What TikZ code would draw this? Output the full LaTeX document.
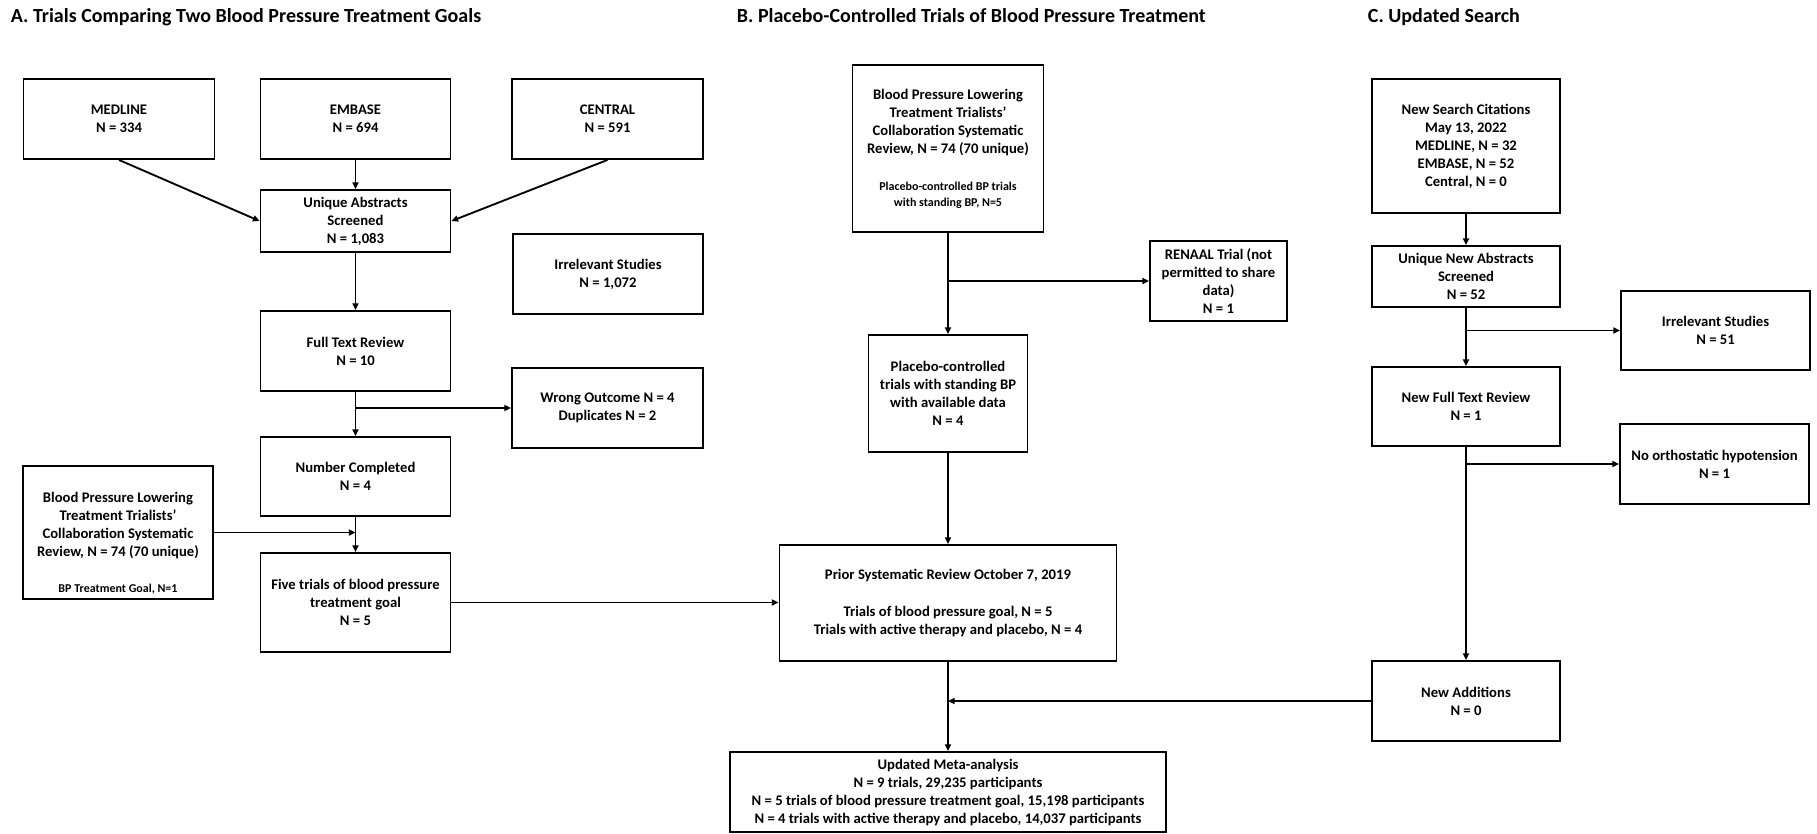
\documentclass[tikz,border=0pt]{standalone}
\usepackage{fontspec}
\setmainfont{Carlito}
\usetikzlibrary{arrows.meta}

\newcommand\smalltxt{\fontsize{9}{12}\selectfont}

\begin{document}
\begin{tikzpicture}[x=.75pt, y=-.75pt, line width=1.4pt,
    box/.style={draw, align=center, inner sep=0pt, font=\bfseries\fontsize{11}{13.5}\selectfont},
    wh/.style 2 args={minimum width=#1*.75pt, minimum height=#2*.75pt},
    title/.style={anchor=base west, inner sep=0pt, font=\bfseries\fontsize{15}{17}\selectfont},
    arr/.style={-{Triangle[length=5pt,width=4.5pt]}}]
\useasboundingbox (0,0) rectangle (1817,833);

\node[title] (titleA) at (10,22) {A. Trials Comparing Two Blood Pressure Treatment Goals};
\node[title] (titleB) at (736,22) {B. Placebo-Controlled Trials of Blood Pressure Treatment};
\node[title] (titleC) at (1367,22) {C. Updated Search};

% A
\node[box, wh={191}{80}] (medline) at (119,119) {MEDLINE\\N = 334};
\node[box, wh={190}{80}] (embase) at (355.5,119) {EMBASE\\N = 694};
\node[box, wh={191}{80}] (central) at (607.5,119) {CENTRAL\\N = 591};
\node[box, wh={190}{62}] (abstr) at (355.5,221) {Unique Abstracts\\Screened\\N = 1,083};
\node[box, wh={190}{80}] (irrel) at (608,274) {Irrelevant Studies\\N = 1,072};
\node[box, wh={190}{80}] (fulltext) at (355.5,351) {Full Text Review\\N = 10};
\node[box, wh={191}{80}] (wrong) at (607.5,408) {Wrong Outcome N = 4\\Duplicates N = 2};
\node[box, wh={190}{79}] (complete) at (355.5,476.5) {Number Completed\\N = 4};
\node[box, wh={190}{133}] (bplttA) at (118,532.5) {\rule{0pt}{23pt}Blood Pressure Lowering\\Treatment Trialists'\\Collaboration Systematic\\Review, N = 74 (70 unique)\\[13.5pt]\smalltxt BP Treatment Goal, N=1};
\node[box, wh={190}{99}] (five) at (355.5,602.5) {Five trials of blood pressure\\treatment goal\\N = 5};

\draw[arr] (medline.south) -- (abstr.west);
\draw[arr] (embase) -- (abstr);
\draw[arr] (central.south) -- (abstr.east);
\draw[arr] (abstr) -- (fulltext);
\draw[arr] (fulltext) -- (complete);
\draw[arr] (fulltext.south |- wrong.west) -- (wrong.west);
\draw[arr] (complete) -- (five);
\draw[arr] (bplttA.east) -- (bplttA.east -| complete.south);

% B
\node[box, wh={191}{167}] (bplttB) at (948,148.5) {Blood Pressure Lowering\\Treatment Trialists'\\Collaboration Systematic\\Review, N = 74 (70 unique)\\[14.25pt]\smalltxt Placebo-controlled BP trials\\[-1.5pt]\smalltxt with standing BP, N=5};
\node[box, wh={137}{80}] (renaal) at (1218.5,281) {RENAAL Trial (not\\permitted to share\\data)\\N = 1};
\node[box, wh={159}{117}] (placebo) at (948,393.5) {Placebo-controlled\\trials with standing BP\\with available data\\N = 4};
\node[box, wh={337}{116}] (prior) at (948,603) {Prior Systematic Review October 7, 2019\\[14.25pt]Trials of blood pressure goal, N = 5\\Trials with active therapy and placebo, N = 4};
\node[box, wh={436}{80}] (meta) at (948,792) {Updated Meta-analysis\\N = 9 trials, 29,235 participants\\N = 5 trials of blood pressure treatment goal, 15,198 participants\\N = 4 trials with active therapy and placebo, 14,037 participants};

\draw[arr] (bplttB) -- (placebo);
\draw[arr] (bplttB.south |- renaal.west) -- (renaal.west);
\draw[arr] (placebo) -- (prior);
\draw[arr] (five.east) -- (five.east -| prior.west);
\draw[arr] (prior) -- (meta);

% C
\node[box, wh={188}{134}] (newsearch) at (1466,146) {New Search Citations\\May 13, 2022\\MEDLINE, N = 32\\EMBASE, N = 52\\Central, N = 0};
\node[box, wh={188}{61}] (newabstr) at (1466,276.5) {Unique New Abstracts\\Screened\\N = 52};
\node[box, wh={189}{79}] (irrelnew) at (1715.5,330.5) {Irrelevant Studies\\N = 51};
\node[box, wh={188}{79}] (newfull) at (1466,406.5) {New Full Text Review\\N = 1};
\node[box, wh={189}{80}] (noortho) at (1714.5,464) {No orthostatic hypotension\\N = 1};
\node[box, wh={188}{80}] (newadd) at (1466,701) {New Additions\\N = 0};

\draw[arr] (newsearch) -- (newabstr);
\draw[arr] (newabstr) -- (newfull);
\draw[arr] (newabstr.south |- irrelnew.west) -- (irrelnew.west);
\draw[arr] (newfull) -- (newadd);
\draw[arr] (newfull.south |- noortho.west) -- (noortho.west);
\draw[arr] (newadd.west) -- (newadd.west -| prior.south);
\end{tikzpicture}
\end{document}
